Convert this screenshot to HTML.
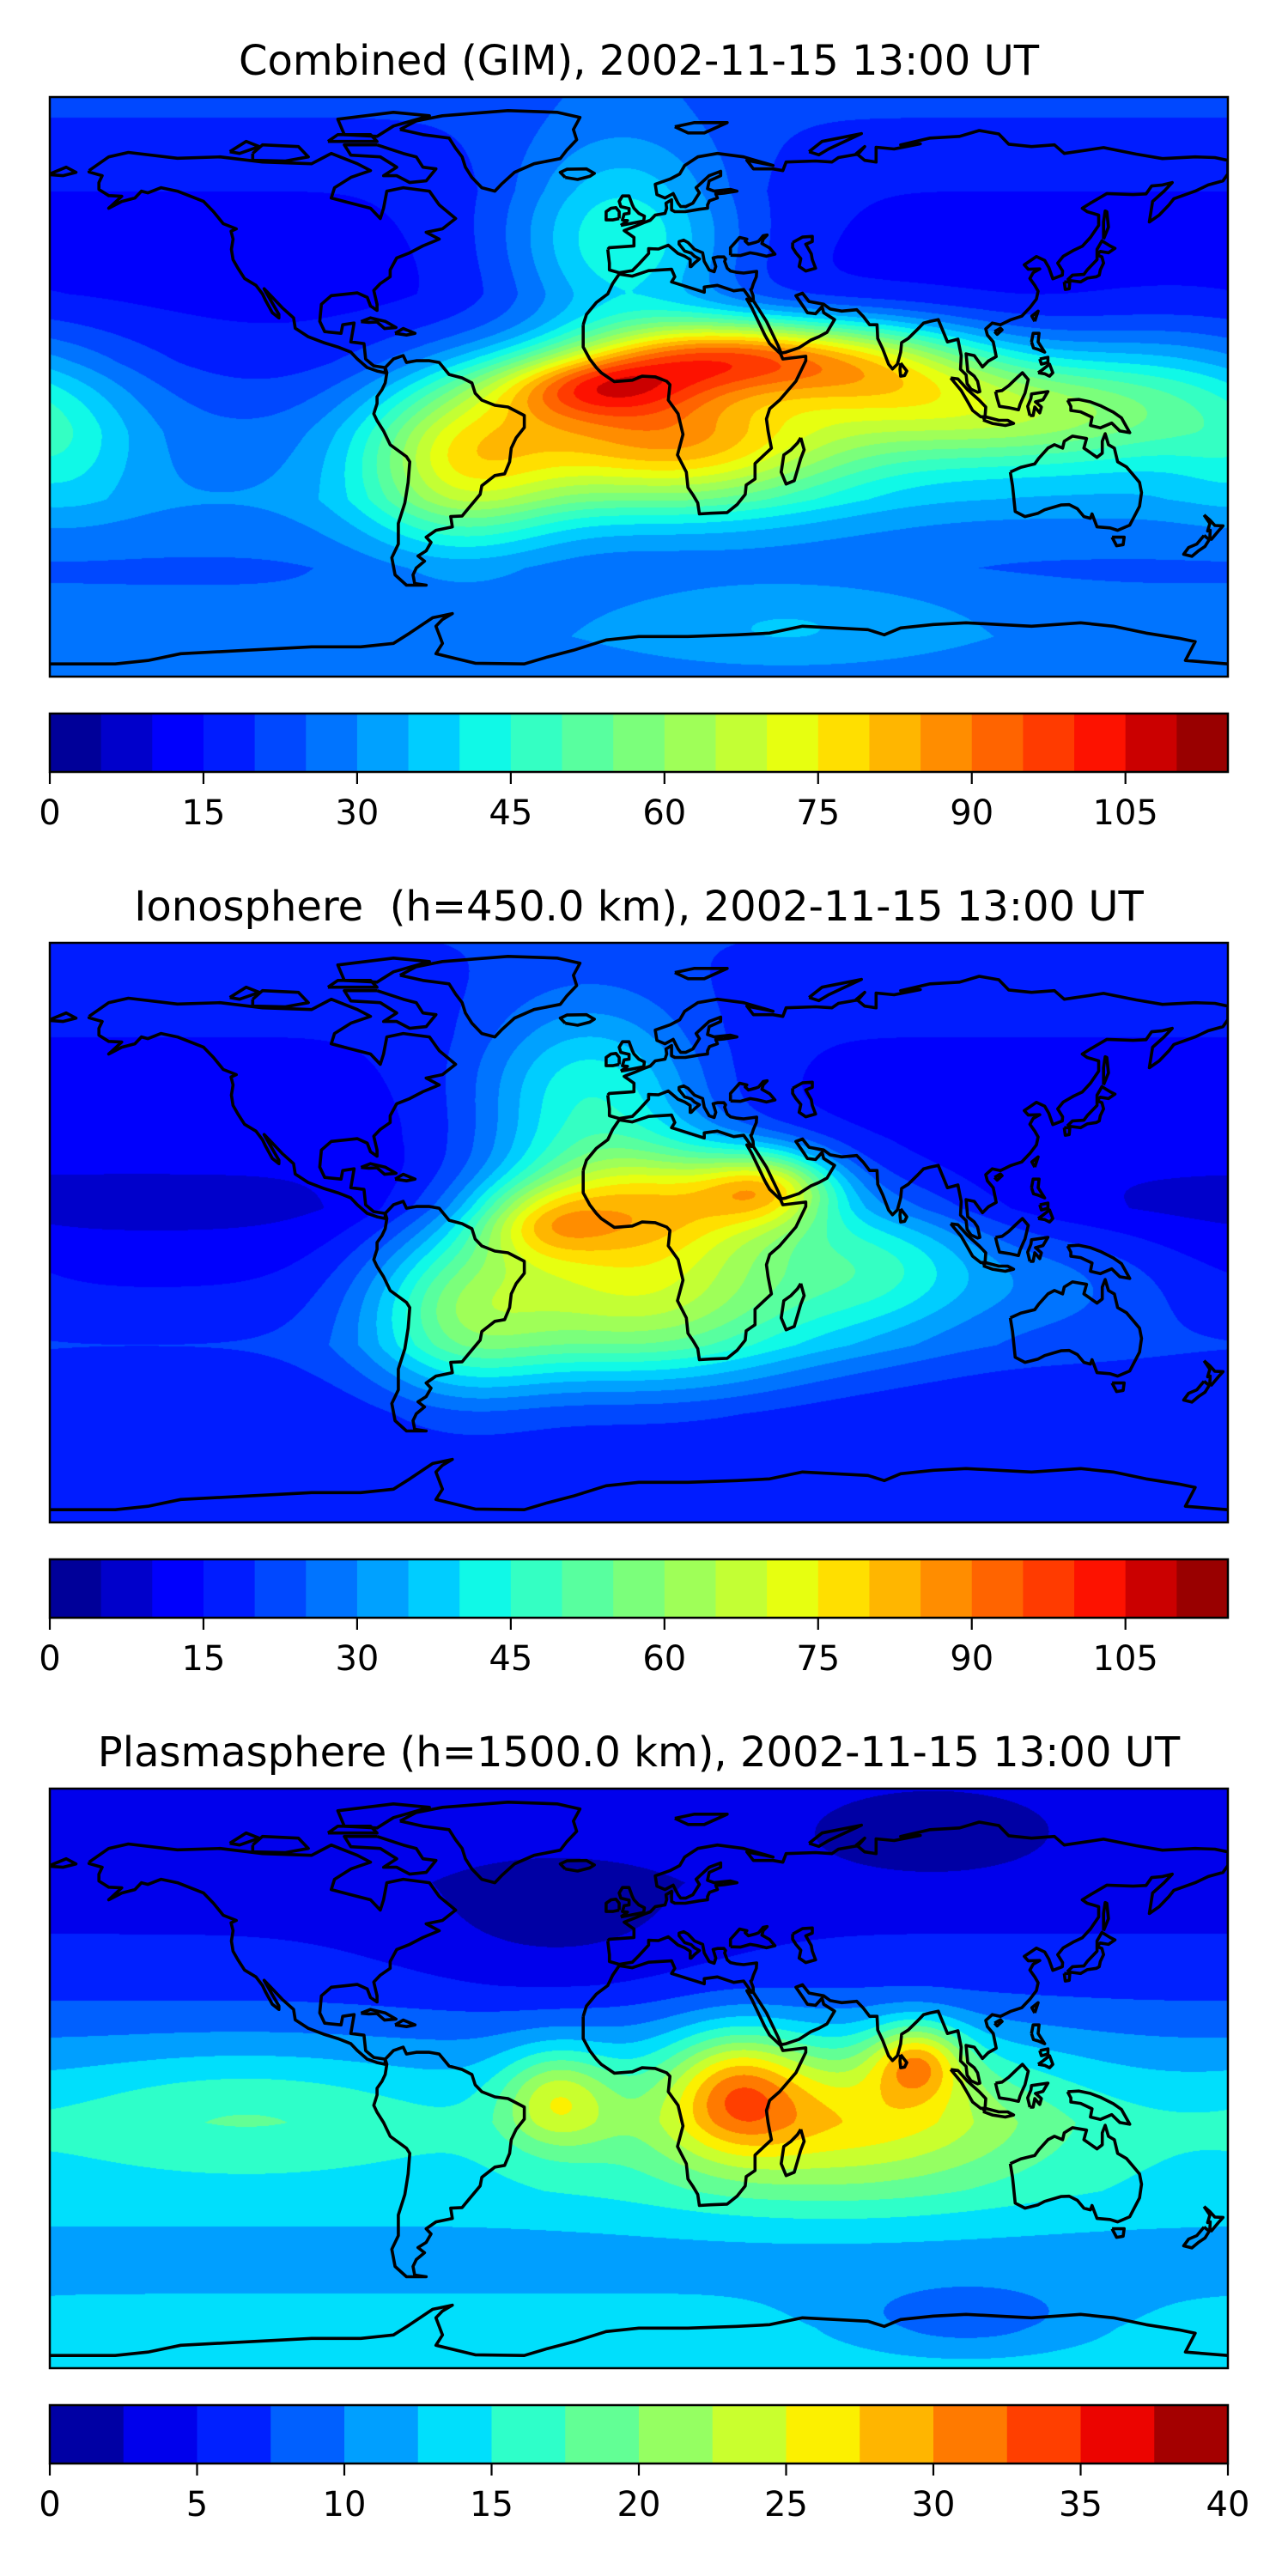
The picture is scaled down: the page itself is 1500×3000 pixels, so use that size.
<!DOCTYPE html>
<html><head><meta charset="utf-8">
<style>
body{margin:0;width:1500px;height:3000px;position:relative;background:#fff;overflow:hidden}
canvas{position:absolute;left:58px}
svg{position:absolute;left:0;top:0}
text{font-family:"DejaVu Sans","Liberation Sans",sans-serif;fill:#000}
</style></head>
<body>
<canvas id="c0" width="1372" height="675" style="top:113px"></canvas>
<canvas id="c1" width="1372" height="675" style="top:1098px"></canvas>
<canvas id="c2" width="1372" height="675" style="top:2083px"></canvas>
<svg id="ov" width="1500" height="3000" xmlns="http://www.w3.org/2000/svg"></svg>
<script>
// ---------- data ----------
const p1Title = "Combined (GIM), 2002-11-15 13:00 UT";
const p2Title = "Ionosphere  (h=450.0 km), 2002-11-15 13:00 UT";
const p3Title = "Plasmasphere (h=1500.0 km), 2002-11-15 13:00 UT";
const latNodes = [90, 60, 30, 10, -10, -30, -50, -70, -90];
const p1LatBase = [22, 15, 13, 17, 25, 30, 24, 28, 25];
const p2LatBase = [20, 15, 12, 8, 14, 20, 15, 16, 18];
const p3LatBase = [3.5, 3.5, 6.5, 10.5, 14, 14, 11, 14, 15];
// blobs: [lon, lat, amplitude, sigmaLon, sigmaLat]
const p1Blobs = [[28,12,56,30,8],[-15,3,38,22,7],[10,-12,58,40,14],[75,8,30,25,10],[110,-4,35,35,12],[-55,-18,36,22,18],[-5,45,30,25,22],[165,0,18,30,15],[-175,-18,8,15,12],[45,-65,8,40,10]];
const p2Blobs = [[5,12,45,28,12],[40,16,40,15,8],[-30,6,25,15,8],[0,-14,50,40,18],[-15,42,30,25,20],[75,-5,25,25,15],[-55,-20,25,20,18],[130,-10,10,25,12]];
const p3Blobs = [[30,0,11,14,12],[85,8,13,10,8],[60,-8,13,45,16],[-25,-3,10,12,10],[-120,-5,4,40,12],[-25,45,-3,35,15],[90,75,-2,30,10],[100,-68,-5,30,8]];
const p1Levels = [0,115,5];
const p2Levels = [0,115,5];
const p3Levels = [0,40,2.5];
const p1Ticks = [0,15,30,45,60,75,90,105];
const p2Ticks = [0,15,30,45,60,75,90,105];
const p3Ticks = [0,5,10,15,20,25,30,35,40];

// coastlines (lon, lat)
const coastChukotka = [[-180,65],[-175,67],[-172,65.5],[-176,64.5],[-180,64.8]];
const coastNorthAmerica = [[-168,66],[-162,70],[-156,71.3],[-141,69.6],[-128,70],[-115,68.5],[-100,68],[-94,71],[-86,68],[-82,66],[-88,64],[-93,61],[-94,58],[-90,57],[-82,55],[-79,52],[-78,55],[-77,60],[-72,61],[-64,60],[-61,56],[-56,52],[-60,49],[-65,48],[-61,46],[-66,44],[-70,42],[-74,40.5],[-76,37],[-76,35],[-79,33],[-81,31],[-80,27],[-80,25.2],[-82,26.5],[-83,29],[-86,30.3],[-89,30],[-94,29.5],[-97,27],[-97.5,22],[-96,19],[-91,18.5],[-90.5,21],[-87,21.5],[-88,16],[-84,15.5],[-83.5,11],[-81,9],[-77.5,8.5],[-77.5,7],[-80,7.5],[-83,8.5],[-86,11],[-88,13],[-92,14.5],[-96,15.7],[-101,17.5],[-105,20],[-105.5,23],[-109,26],[-112.5,29.5],[-114.5,31.5],[-113,29],[-110,24],[-110,23],[-112,24.5],[-114,28],[-115,30],[-117,32.5],[-120.5,34.5],[-122.5,37.5],[-124,40],[-124.5,43],[-124,46],[-124.6,48.3],[-123,49],[-127,50.5],[-130,54],[-133,57],[-137,58.5],[-141,60],[-146,61],[-150,59.5],[-152,60],[-154,58],[-158,57],[-162,55],[-158,58.5],[-162,58.7],[-165,60.5],[-165,62.5],[-164,64.5],[-168,65.6],[-168,66]];
const coastGreenland = [[-73,78],[-68,80.5],[-60,82],[-40,83.5],[-25,83],[-18,81.5],[-20,78],[-19,75],[-22,72],[-24,69.5],[-32,68],[-38,65.5],[-42,62],[-44,60],[-48,61],[-51,64],[-53,67],[-54,70],[-56,72.5],[-58,75.5],[-66,76.5],[-73,78]];
const coastBaffin = [[-80,73.5],[-72,71],[-68,70],[-66,67],[-62,66.5],[-65,63],[-70,62.5],[-74,64.5],[-78,64.5],[-74,67],[-79,70],[-88,70.5],[-90,73.5],[-80,73.5]];
const coastVictoria = [[-118,71],[-115,73.5],[-104,73],[-101,70],[-108,68.8],[-118,69],[-118,71]];
const coastEllesmere = [[-90,76.5],[-80,76],[-75,79],[-64,82],[-75,83],[-92,81],[-90,76.5]];
const coastDevon = [[-95,74.5],[-80,74.5],[-82,76.5],[-92,76.5],[-95,74.5]];
const coastBanks = [[-125,71.5],[-120,74.5],[-116,73],[-122,71],[-125,71.5]];
const coastSouthAmerica = [[-77.5,8.5],[-75,11],[-72,12],[-71,10],[-68,10.5],[-64,10.5],[-61,10],[-58,6.5],[-54,5.5],[-51,4],[-50,1],[-48,-1],[-44,-2.5],[-40,-3],[-35,-5.5],[-35,-9],[-37.5,-12],[-39,-15],[-39.5,-19],[-41,-22.5],[-44,-23],[-48,-26],[-48.5,-28.5],[-52,-32.5],[-54,-34.8],[-57.5,-35],[-57,-38],[-62,-39],[-65,-41],[-63.5,-42.5],[-65,-45],[-67.5,-46.5],[-65.5,-48],[-68,-50],[-69,-52],[-68.5,-54.5],[-65,-55],[-71,-55],[-74.5,-52],[-75.5,-47],[-73.5,-43],[-73.5,-37],[-71.5,-31],[-70.5,-25],[-70,-19],[-71,-17.5],[-76,-14],[-78,-10],[-80,-7],[-81,-5],[-80,-2],[-80,0],[-78.5,2],[-77.5,4],[-77,7],[-77.5,8.5]];
const coastAfrica = [[-17,21],[-16,24],[-13,27.5],[-9.5,30],[-8,33],[-6,35.8],[-2,35.2],[3,36.8],[10,37.2],[11,35],[10,33.5],[15,32],[20,30.5],[20,32],[24,32.5],[29,30.9],[32,31.3],[34.5,28],[33,28.5],[34.5,26],[37,21],[38.5,18],[40,15.5],[43.3,12.5],[44,11],[51,11.8],[51,10.5],[48,4.5],[43,-1],[40,-3.5],[39,-6.5],[39.5,-10],[40.5,-15],[35.5,-19.5],[35.5,-24],[32.8,-25.8],[32.5,-28.5],[30,-31.5],[27,-33.8],[22,-34],[18.5,-34.2],[18,-31],[16.5,-28.6],[15,-26.5],[14.5,-22],[11.8,-17],[13.5,-11],[12,-5],[9,-1],[9.5,3.5],[8.5,4.5],[5,5.8],[1,6],[-2,4.8],[-7.5,4.4],[-11.5,7],[-13,8.5],[-15,11],[-17,14.5],[-17,21]];
const coastMadagascar = [[49.5,-12],[50.5,-15.5],[49.5,-18],[47.5,-24.5],[45,-25.5],[43.5,-22],[44.3,-17],[46.5,-15.5],[48.5,-13.5],[49.5,-12]];
const coastEurasia = [[-9.5,43],[-9,39],[-9,37],[-6,36.2],[-2,36.8],[0,38.7],[3,41.8],[3,43.2],[6,43.1],[9,44.2],[10.5,43],[12,41.8],[14,41],[15.7,40],[15.7,38],[16,38],[17,39],[18.5,40.2],[17,41],[16,41.9],[14,42.5],[12.3,44.5],[12.3,45.3],[13.7,45.7],[15,45],[17,43],[19.5,42],[20,39.5],[21.5,37],[23,36.5],[23.5,38],[22.7,40.5],[24,40.8],[26,40.8],[26.5,40.2],[26.2,39.5],[27,37.5],[28,36.7],[30,36.3],[32,36.1],[36,36.6],[35.9,35],[35,33],[34.5,31.5],[34.2,31.3],[34.9,29.5],[35,28],[39,22],[42.5,15],[43.5,12.7],[45,13],[49,14.3],[52.5,16.5],[55,17.5],[57.5,18.8],[59.8,22.5],[56.5,24.5],[56,26.3],[54,24.2],[51.5,24.5],[50.5,26],[48,29.5],[50,30.2],[52,27.8],[56.5,27],[58.5,25.6],[62,25],[66.6,25.4],[68.5,23.5],[70.5,21],[72.8,21],[73,17],[74.5,14],[76.3,9.5],[77.5,8.1],[79,9.5],[80,13],[80.3,15.8],[82.3,17],[85,19.5],[87,21.5],[89,22],[91.5,22.5],[92.3,20.6],[94.3,16],[97.5,16.8],[98.5,12],[98.3,8],[100,6.4],[100.3,3.8],[101.5,2.2],[103.5,1.3],[104.2,1.5],[103.5,4.5],[102.5,6],[100.5,7.5],[100,12.5],[102.5,12],[105,8.7],[106.8,10.4],[109.2,11.7],[108.3,16],[106.5,18],[106,19.8],[108,21.5],[110.5,21],[113.5,22.4],[117,23.5],[119.5,26],[121.5,28.5],[122,30.8],[121,32.5],[119.5,34.5],[120.5,36.2],[122.5,37.3],[119,37.2],[117.8,38.5],[121.5,40.9],[124,39.8],[125.3,37.7],[126.5,34.4],[129.4,35.5],[129.5,36.7],[128,39],[129.7,41],[133,42.8],[135.5,43.9],[138,46.5],[140.5,50],[140.5,53],[137,54],[135.5,55],[138,56.5],[143,59.3],[151,59],[155,59.2],[156.7,61.5],[160,61.8],[163,62.5],[160.5,60],[157,57],[156,51],[159,53],[162,56],[163.5,57.8],[170,60],[174,61.8],[178.5,63],[180,65],[180,69],[176,69.8],[170,70],[160,69.5],[152,70.8],[142,72.7],[130,71],[127,73.5],[120,73],[113,73.7],[110,76.7],[104,77.7],[98,76],[89,75.5],[80,73.5],[86,73.8],[78,72.3],[72.5,72.8],[72.5,68.5],[69,69],[66.5,71],[69,73],[67,70.8],[61,69.8],[59,68.5],[54,68.8],[45,68.5],[44,66],[41,66.5],[35,66.5],[33,69],[41,67.5],[32,70],[24,71],[18,70],[14,67.5],[12.5,65],[9.5,63.5],[5,62],[5.5,59],[8,58],[10.5,59.3],[12,56.5],[12.8,55.5],[14.3,55.5],[16.5,56.5],[18.5,59.5],[17.5,61],[21.5,64.5],[25,65.8],[25,64.5],[21.5,63],[21,60.7],[23,60],[28,60.5],[30,60],[26,59.4],[23.5,59.2],[24,58],[21.6,57.2],[21,56],[21,55],[18.5,54.7],[14.2,54],[11,54],[10,54.5],[10,57.5],[8.3,56.5],[8.5,55],[8,53.5],[5,53],[3.5,51.5],[1.5,50.8],[-1.5,49.6],[-4.5,48.5],[-1.5,46.5],[-1.5,44],[-9,43.5],[-9.5,43]];
const coastBlackSea = [[28,41.3],[28,43.5],[29.6,45.2],[30.8,46.5],[33,46],[32.5,45.4],[33.5,44.5],[35.5,45],[36.6,45.4],[38,47],[39.2,47.2],[38,46],[37.6,44.7],[40,43.4],[41.6,41.6],[39,41],[36,41.7],[34,42],[31,41.2],[28,41.3]];
const coastCaspian = [[47,45],[50,46.6],[53,46.8],[53,45.3],[51,44.5],[52.7,41.7],[53,40],[54,37.5],[51,36.7],[49,38],[49.5,40.3],[48,42],[47,43.5],[47,45]];
const coastBritain = [[-5.5,50],[1.5,51.3],[1.7,52.7],[0,53.5],[-1.5,55],[-2,56],[-3,58.6],[-5,58.6],[-6,57],[-5.5,55.5],[-3,54.9],[-3,53.5],[-4.5,53.3],[-5,51.6],[-3.5,51.4],[-5.5,50]];
const coastIreland = [[-6,52],[-6,54],[-7,55.2],[-8.5,55],[-10,54],[-10,51.6],[-8,51.6],[-6,52]];
const coastIceland = [[-22.5,64],[-24,65.5],[-22,66.4],[-16,66.5],[-13.6,65.2],[-15,64.3],[-18.7,63.4],[-22.5,64]];
const coastHonshu = [[130.9,34],[132.5,35.5],[136,35.7],[137,37],[140,40],[140,41.4],[141.5,40.8],[142,39],[141,37],[140.7,35.5],[139.8,35],[137,34.6],[135,33.5],[132.5,33.8],[130.9,34]];
const coastHokkaido = [[140,41.5],[140,43],[141.5,45.5],[144,44],[145.5,43.3],[143.5,42],[141,42.4],[140,41.5]];
const coastKyushu = [[130,33.5],[131.7,33.5],[131.5,31.5],[130.3,31.3],[130,33.5]];
const coastSakhalin = [[142,46],[143.5,49.5],[143,54],[142.5,54.2],[142,51],[142,46]];
const coastTaiwan = [[121,22],[122,25],[120.1,23.5],[121,22]];
const coastHainan = [[108.7,19],[110.5,20],[111,19.5],[109.5,18.2],[108.7,19]];
const coastLuzon = [[120,16],[120.5,18.5],[122.3,18.5],[122,16],[124,13],[122,13.8],[120.6,14.2],[120,16]];
const coastMindanao = [[122,7],[123.5,8],[125.5,9.5],[126.5,7],[125.5,6],[124,6.7],[122,7]];
const coastVisayas = [[122.5,11],[125,11.5],[125,10],[123,9.5],[122.5,11]];
const coastSriLanka = [[80,9.8],[81.9,7.5],[81.2,6.2],[80,6],[79.8,8],[80,9.8]];
const coastSumatra = [[95.3,5.5],[97.5,5.2],[100.5,2],[104,-1],[106,-3],[105.8,-5.8],[104.5,-5.9],[102,-4],[100.2,-1],[98.5,1.8],[95.3,5.5]];
const coastJava = [[105.2,-6.8],[106,-5.9],[110,-6.9],[112.7,-6.9],[114.5,-7.8],[112,-8.4],[108,-7.8],[105.2,-6.8]];
const coastBorneo = [[109,1.5],[111,1.8],[113,3.2],[115.5,5.5],[117.2,7],[119,5],[118,1],[117.5,0],[116.5,-2.2],[116,-3.8],[113,-3.2],[110.2,-2.8],[109.5,-0.5],[109,1.5]];
const coastSulawesi = [[119.5,-5.5],[120.5,-5.5],[121,-3],[122.5,-4.7],[123,-3],[121.2,-1.5],[123.5,-0.9],[125,1.5],[120,0.8],[119.8,-0.5],[118.8,-2.8],[119.5,-5.5]];
const coastNewGuinea = [[131,-1],[134.5,-0.8],[138,-1.5],[141,-2.6],[145,-4.5],[147.5,-6.2],[150,-10.5],[147,-10],[144.5,-7.7],[141,-9.1],[138,-8.4],[138.5,-6],[135,-4.4],[132,-4],[132,-2.8],[131,-1]];
const coastAustralia = [[113.5,-22],[114.2,-26],[115,-33.5],[118,-35],[122,-34],[124,-33],[129,-31.6],[131.5,-31.5],[134,-32.7],[136,-35],[138,-35.5],[138.5,-34.2],[140,-38],[144,-38.3],[146.3,-39],[150,-37.5],[153,-32],[153.6,-28],[153,-25],[150.8,-22.5],[149,-20.5],[146.3,-19],[145.3,-15],[143.5,-14],[142.5,-10.8],[141.6,-13],[141.6,-16.5],[140,-17.7],[136,-15],[136.8,-12.2],[132.5,-11.5],[130,-13],[129.5,-15],[127,-14],[125,-15],[122.2,-18],[121,-19.6],[116.7,-20.6],[113.5,-22]];
const coastTasmania = [[144.6,-41],[148.3,-41],[148,-43.2],[146,-43.5],[144.6,-41]];
const coastNZNorth = [[172.7,-34.5],[174.5,-36],[176,-37.6],[178.5,-37.7],[177,-39.3],[175,-41.6],[174.5,-41],[174.6,-39],[173.8,-39.2],[174.5,-37],[172.7,-34.5]];
const coastNZSouth = [[172.7,-40.5],[174.3,-41.7],[173,-43.7],[171,-45],[169,-46.6],[166.5,-46],[168,-44],[170.5,-43],[172.7,-40.5]];
const coastCuba = [[-84.9,21.9],[-82,23],[-77.5,22],[-74.2,20.2],[-77.7,19.9],[-80,21.8],[-82.5,21.7],[-84.9,21.9]];
const coastHispaniola = [[-74.5,18.5],[-72,19.9],[-68.4,18.5],[-71,18],[-74.5,18.5]];
const coastNovayaZemlya = [[52,71.5],[56,74.5],[68,76.8],[58,72.3],[55,70.6],[52,71.5]];
const coastSvalbard = [[11,78.8],[17,80],[27,80],[20,77],[15,77],[11,78.8]];
const coastAntarctica = [[-180,-78],[-160,-78],[-150,-77],[-140,-75],[-120,-74],[-100,-73],[-85,-73],[-75,-72],[-70,-69],[-63,-64.5],[-57,-63.3],[-60,-65],[-62,-67],[-60,-72],[-62,-75],[-50,-77.8],[-35,-78],[-28,-76],[-20,-74],[-10,-71],[0,-70],[15,-70],[30,-69.5],[40,-69],[50,-67],[60,-67.5],[70,-68],[75,-69.5],[80,-67.5],[90,-66.5],[100,-66],[110,-66.5],[120,-67],[135,-66],[145,-67],[155,-69],[165,-70.5],[170,-71.5],[167,-77],[180,-78]];
const coastlines = [coastChukotka,coastNorthAmerica,coastGreenland,coastBaffin,coastVictoria,coastEllesmere,coastDevon,coastBanks,coastSouthAmerica,coastAfrica,coastMadagascar,coastEurasia,coastBlackSea,coastCaspian,coastBritain,coastIreland,coastIceland,coastHonshu,coastHokkaido,coastKyushu,coastSakhalin,coastTaiwan,coastHainan,coastLuzon,coastMindanao,coastVisayas,coastSriLanka,coastSumatra,coastJava,coastBorneo,coastSulawesi,coastNewGuinea,coastAustralia,coastTasmania,coastNZNorth,coastNZSouth,coastCuba,coastHispaniola,coastNovayaZemlya,coastSvalbard,coastAntarctica];

// ---------- layout ----------
const MX = 58, MW = 1372, MH = 675;
const panelTops = [113, 1098, 2083];
const panels = [
  {title:p1Title, base:p1LatBase, blobs:p1Blobs, lev:p1Levels, ticks:p1Ticks, name:'combined'},
  {title:p2Title, base:p2LatBase, blobs:p2Blobs, lev:p2Levels, ticks:p2Ticks, name:'ionosphere'},
  {title:p3Title, base:p3LatBase, blobs:p3Blobs, lev:p3Levels, ticks:p3Ticks, name:'plasmasphere'}
];
function xOf(lon){ return (lon+180)/360*MW; }
function yOf(lat){ return 349 - lat*3.99; }
const jetR=[[0,0],[0.35,0],[0.66,1],[0.89,1],[1,0.5]];
const jetG=[[0,0],[0.125,0],[0.375,1],[0.64,1],[0.91,0],[1,0]];
const jetB=[[0,0.5],[0.11,1],[0.34,1],[0.65,0],[1,0]];
function seg(s,x){
  for(let i=0;i<s.length-1;i++){
    if(x>=s[i][0] && x<=s[i+1][0]){ const t=(x-s[i][0])/(s[i+1][0]-s[i][0]); return s[i][1]+(s[i+1][1]-s[i][1])*t; }
  }
  return s[s.length-1][1];
}
function jet(x){ return [seg(jetR,x),seg(jetG,x),seg(jetB,x)].map(v=>Math.round(v*255)); }
function baseAt(base, lat){
  for(let i=0;i<latNodes.length-1;i++){
    const a=latNodes[i], b=latNodes[i+1];
    if(lat<=a && lat>=b){ const t=(a-lat)/(a-b); return base[i]*(1-t)+base[i+1]*t; }
  }
  return lat>0?base[0]:base[base.length-1];
}
function fieldAt(p, lon, lat){
  let v = baseAt(p.base, lat);
  for(const b of p.blobs){
    let dl = ((lon-b[0]+540)%360)-180;
    const dt = lat-b[1];
    v += b[2]*Math.exp(-0.5*(dl/b[3])*(dl/b[3]) - 0.5*(dt/b[4])*(dt/b[4]));
  }
  return v;
}
const NS='http://www.w3.org/2000/svg';
const ov = document.getElementById('ov');
function mk(tag, attrs, parent){
  const e=document.createElementNS(NS,tag);
  for(const k in attrs) e.setAttribute(k, attrs[k]);
  (parent||ov).appendChild(e); return e;
}
panels.forEach((p,pi)=>{
  const top = panelTops[pi];
  const [vmin,vmax,step] = p.lev;
  const nb = Math.round((vmax-vmin)/step);
  const cols=[]; for(let i=0;i<nb;i++) cols.push(jet((i+0.5)/nb));
  const GW=361, GH=181, grid=new Float32Array(GW*GH);
  for(let j=0;j<GH;j++) for(let i=0;i<GW;i++) grid[j*GW+i]=fieldAt(p, -180+i, 90-j);
  const cv=document.getElementById('c'+pi), ctx=cv.getContext('2d');
  const img=ctx.createImageData(MW,MH), d=img.data;
  for(let y=0;y<MH;y++){
    const lat=(349-(y+0.5))/3.99, gj=Math.min(GH-1.001,Math.max(0,90-lat));
    const j0=Math.floor(gj), tj=gj-j0;
    for(let x=0;x<MW;x++){
      const lon=(x+0.5)/MW*360-180, gi=lon+180;
      const i0=Math.min(GW-2,Math.floor(gi)), ti=gi-i0;
      const v=(grid[j0*GW+i0]*(1-ti)+grid[j0*GW+i0+1]*ti)*(1-tj)+(grid[(j0+1)*GW+i0]*(1-ti)+grid[(j0+1)*GW+i0+1]*ti)*tj;
      let k=Math.floor((v-vmin)/step); k=Math.max(0,Math.min(nb-1,k));
      const c=cols[k], o=(y*MW+x)*4;
      d[o]=c[0]; d[o+1]=c[1]; d[o+2]=c[2]; d[o+3]=255;
    }
  }
  ctx.putImageData(img,0,0);
  const t=mk('text',{x:744,y:top-26,'text-anchor':'middle','font-size':48,style:'white-space:pre'});
  t.textContent=p.title;
  
  
  const g=mk('g',{transform:`translate(${MX},${top})`});
  
  
  const cp=mk('clipPath',{id:'clip'+pi},g); mk('rect',{x:0,y:0,width:MW,height:MH},cp);
  const gg=mk('g',{'clip-path':`url(#clip${pi})`},g);
  coastlines.forEach(poly=>{
    const pts=poly.map(q=>xOf(q[0]).toFixed(1)+','+yOf(q[1]).toFixed(1)).join(' ');
    const pl=mk('polyline',{points:pts,fill:'none',stroke:'#000','stroke-width':3.6,'stroke-linejoin':'round'},gg);
    
    
  });
  const fr=mk('rect',{x:MX,y:top,width:MW,height:MH,fill:'none',stroke:'#000','stroke-width':2.5});
  
  
  const cbTop=top+718, cbH=68;
  const cb=mk('g',{});
  
  
  const bw=MW/nb;
  for(let i=0;i<nb;i++){
    const c=cols[i];
    const r=mk('rect',{x:MX+i*bw,y:cbTop,width:bw+0.6,height:cbH,fill:`rgb(${c[0]},${c[1]},${c[2]})`},cb);
    
    
  }
  mk('rect',{x:MX,y:cbTop,width:MW,height:cbH,fill:'none',stroke:'#000','stroke-width':2.5},cb);
  p.ticks.forEach(v=>{
    const x=MX+(v-vmin)/(vmax-vmin)*MW;
    mk('line',{x1:x,x2:x,y1:cbTop+cbH,y2:cbTop+cbH+14,stroke:'#000','stroke-width':2.2},cb);
    const tl=mk('text',{x:x,y:cbTop+cbH+61,'text-anchor':'middle','font-size':40},cb);
    tl.textContent=String(v);
    
    
  });
});
</script>
</body></html>
